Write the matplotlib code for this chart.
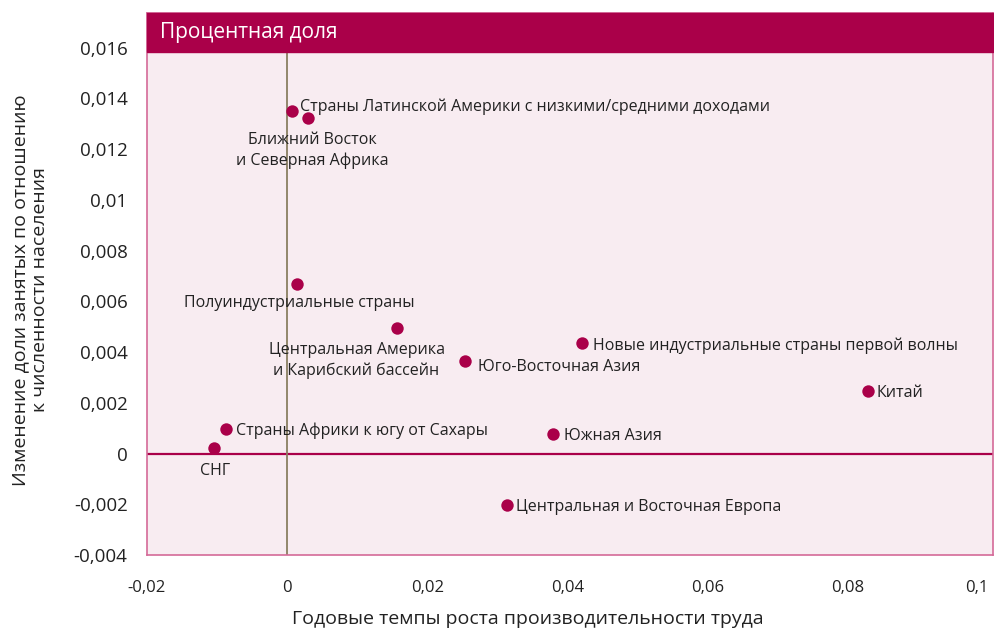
import matplotlib
matplotlib.use("Agg")
import matplotlib.pyplot as plt
from matplotlib.patches import Rectangle

names = [
    "Страны Латинской Америки с низкими/средними доходами",
    "Ближний Восток\nи Северная Африка",
    "Полуиндустриальные страны",
    "Центральная Америка\nи Карибский бассейн",
    "Юго-Восточная Азия",
    "Новые индустриальные страны первой волны",
    "Китай",
    "Южная Азия",
    "Страны Африки к югу от Сахары",
    "СНГ",
    "Центральная и Восточная Европа",
]
productivity = [0.0007, 0.0030, 0.0014, 0.0156, 0.0254, 0.0421, 0.0829, 0.0379, -0.0087, -0.0104, 0.0313]
employment = [0.01349, 0.01322, 0.00667, 0.00494, 0.00365, 0.00435, 0.00247, 0.00078, 0.00098, 0.00020, -0.00204]

x_ticks = [-0.02, 0, 0.02, 0.04, 0.06, 0.08, 0.1]
x_tick_labels = ["-0,02", "0", "0,02", "0,04", "0,06", "0,08", "0,1"]
y_ticks = [-0.004, -0.002, 0, 0.002, 0.004, 0.006, 0.008, 0.01, 0.012, 0.014, 0.016]
y_tick_labels = ["-0,004", "-0,002", "0", "0,002", "0,004", "0,006", "0,008", "0,01", "0,012", "0,014", "0,016"]

# label placement: (dx px, dy px, ha, va)
label_pos = [
    (8, 7, "left", "center_baseline"),
    (4, -14, "center", "top"),
    (2, -17, "center", "center_baseline"),
    (-40, -14, "center", "top"),
    (13, -4, "left", "center_baseline"),
    (11, -1, "left", "center_baseline"),
    (8, 0, "left", "center_baseline"),
    (11, 0, "left", "center_baseline"),
    (10, 0, "left", "center_baseline"),
    (1, -21, "center", "center_baseline"),
    (9, 0, "left", "center_baseline"),
]

plt.rcParams['font.family'] = ['Open Sans', 'DejaVu Sans']
MAG = "#AA0049"
BG = "#F8ECF1"
TXT = "#222222"

fig = plt.figure(figsize=(9.95, 6.28), dpi=100)
ax = fig.add_axes([147/995, (628-555)/628, (993-147)/995, (555-13)/628])
ax.set_facecolor(BG)
ax.set_xlim(-0.02, 0.1007)
ax.set_ylim(-0.004, 0.01737)

for s in ax.spines.values():
    s.set_color("#D46A98")
    s.set_linewidth(1.2)

ax.axhline(0, color=MAG, lw=1.6, zorder=1)
ax.axvline(0, color="#8A7F62", lw=1.3, zorder=1)

ax.scatter(productivity, employment, s=80, color=MAG, zorder=3, linewidths=0)

for n, x, y, (dx, dy, ha, va) in zip(names, productivity, employment, label_pos):
    ax.annotate(n, (x, y), xytext=(dx, dy), textcoords="offset pixels",
                ha=ha, va=va, fontsize=11.5, color=TXT, linespacing=1.35, zorder=4)

ax.set_xticks(x_ticks)
ax.set_xticklabels(x_tick_labels)
ax.set_yticks(y_ticks)
ax.set_yticklabels(y_tick_labels)
ax.tick_params(length=0, colors=TXT)
ax.tick_params(axis="y", labelsize=13.5, pad=14)
ax.tick_params(axis="x", labelsize=12, pad=18)
ax.get_xticklabels()[-1].set_ha("right")

# header band
frac = (0.01585 + 0.004) / (0.01737 + 0.004)
ax.add_patch(Rectangle((0, frac), 1, 1 - frac, transform=ax.transAxes,
                       color=MAG, zorder=5, clip_on=False))
ax.text(0.015, 1 - 0.5 * (1 - frac), "Процентная доля",
        transform=ax.transAxes, color="white", fontsize=15, va="center", ha="left", zorder=6)

fig.text(528/995, 4/628, "Годовые темпы роста производительности труда",
         ha="center", va="baseline", fontsize=14, color=TXT)
fig.text(30/995, 1 - 290/628, "Изменение доли занятых по отношению\nк численности населения",
         ha="center", va="center", rotation=90, fontsize=14, color=TXT, linespacing=1.1)

fig.savefig("out.png", dpi=100, facecolor="white")
